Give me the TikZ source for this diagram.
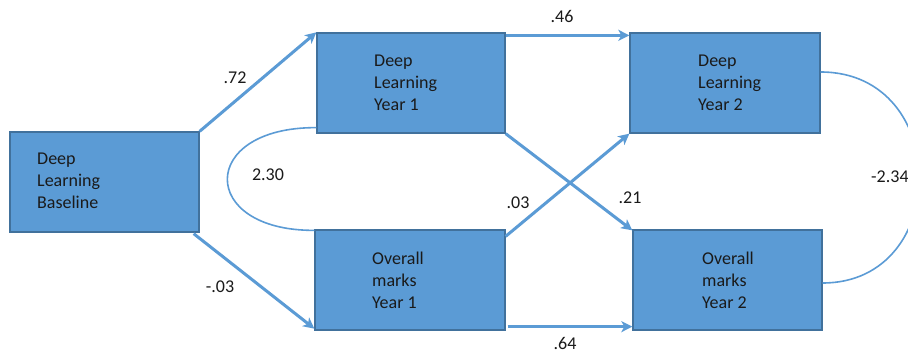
\documentclass[tikz,border=0pt]{standalone}
\usepackage{fontspec}
\setmainfont{Carlito}
\usetikzlibrary{calc,arrows.meta}
\definecolor{boxfill}{HTML}{5B9BD5}
\definecolor{boxline}{HTML}{41719C}
\definecolor{arrowc}{HTML}{5B9BD5}
\definecolor{txt}{HTML}{1A1A1A}
\begin{document}
\begin{tikzpicture}[x=1pt,y=-1pt,
  box/.style={draw=boxline,line width=1.3pt,fill=boxfill,minimum width=#1,minimum height=100pt,inner sep=0pt},
  boxtext/.style={anchor=west,align=left,text=txt,inner sep=0pt,font=\fontsize{18}{22}\selectfont},
  lbl/.style={text=txt,inner sep=0pt,font=\fontsize{18}{22}\selectfont},
  path arrow/.style={draw=arrowc,line width=3pt,-{Stealth[length=11pt,width=11pt,inset=3pt]}},
  cov/.style={draw=arrowc,line width=1.6pt}]
\useasboundingbox (0,0) rectangle (908,352);
\clip (0,0) rectangle (908,352);
\fill[white] (0,0) rectangle (908,352);
% boxes
\node[box=189pt] (b)  at (104.5,182) {};
\node[box=188pt] (d1) at (411,83) {};
\node[box=190pt] (o1) at (410,280) {};
\node[box=190pt] (d2) at (725,83) {};
\node[box=189pt] (o2) at (727.5,280) {};
% box texts
\node[boxtext] (tb)  at (37,181)  {Deep\\Learning\\Baseline};
\node[boxtext] (td1) at (374,83)  {Deep\\Learning\\Year 1};
\node[boxtext] (to1) at (372,280) {Overall\\marks\\Year 1};
\node[boxtext] (td2) at (698,83)  {Deep\\Learning\\Year 2};
\node[boxtext] (to2) at (702,280) {Overall\\marks\\Year 2};
% paths
\draw[path arrow] (b.north east) -- (d1.north west);
\draw[path arrow] ($(b.south east)+(-6,1)$) -- ($(o1.south west)+(0,-2)$);
\draw[path arrow] ($(d1.north east)+(0,3)$) -- ($(d2.north west)+(0,3)$);
\draw[path arrow] (d1.south east) -- ($(o2.north west)+(0,1)$);
\draw[path arrow] ($(o1.north east)+(0,7)$) -- (d2.south west);
\draw[path arrow] ($(o1.south east)+(2,-4)$) -- ($(o2.south west)+(0,-4)$);
% covariances
\draw[cov] ($(d1.south west)+(0,-6)$) .. controls (198,127) and (198,231) .. ($(o1.north west)+(0,1)$);
\draw[cov] ($(d2.east)+(0,-11)$) .. controls (952,72) and (952,283) .. ($(o2.east)+(0,3)$);
% labels
\node[lbl] (l1) at (235,78)  {.72};
\node[lbl] (l2) at (220,287) {-.03};
\node[lbl] (l3) at (268,175) {2.30};
\node[lbl] (l4) at (562,16)  {.46};
\node[lbl] (l5) at (518,203) {.03};
\node[lbl] (l6) at (630,198) {.21};
\node[lbl,anchor=west] (l7) at (871,177) {-2.34};
\node[lbl] (l8) at (565,343) {.64};
\end{tikzpicture}
\end{document}
